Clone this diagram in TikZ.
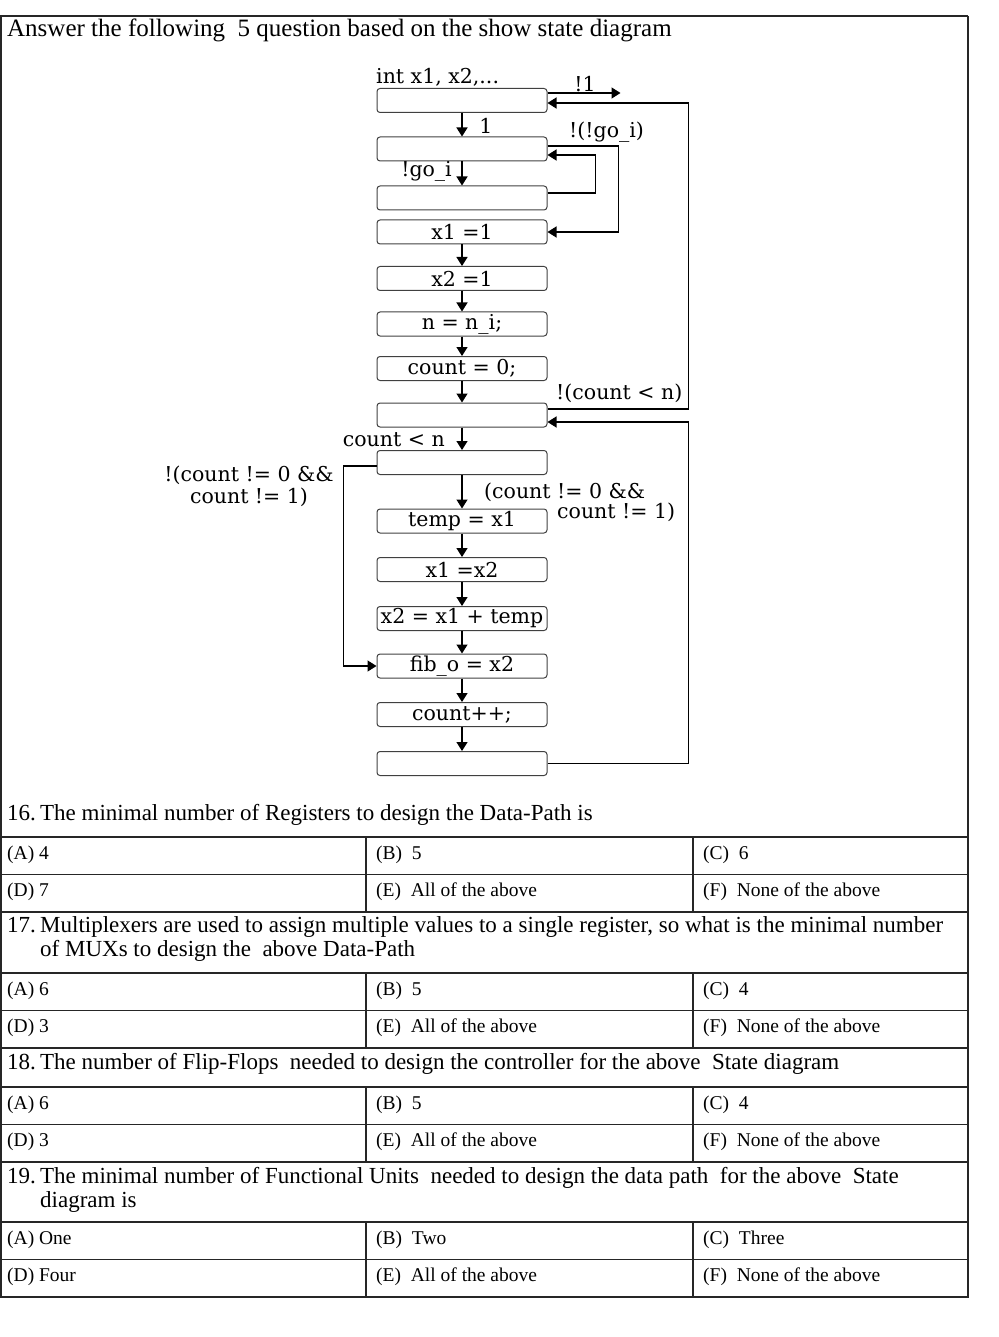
\documentclass[tikz,border=0pt]{standalone}
\usepackage{fontspec}
\setmainfont{Liberation Serif}
\newfontfamily\diagfont{DejaVu Serif}
\usetikzlibrary{arrows.meta}

\tikzset{
  state/.style={draw=black!75, line width=1bp, rounded corners=3bp, minimum width=170bp,
    minimum height=24bp, inner sep=1bp, font=\diagfont\fontsize{20.5bp}{23bp}\selectfont},
  lbl/.style={inner sep=0pt, font=\diagfont\fontsize{20.5bp}{22bp}\selectfont},
  arr/.style={line width=1.3bp, -{Triangle[length=9bp,width=11bp]}},
  rule/.style={line width=1.8bp, black!85},
  qtext/.style={anchor=base west, inner sep=0pt, font=\fontsize{23bp}{28bp}\selectfont},
  otext/.style={anchor=base west, inner sep=0pt, font=\fontsize{19.5bp}{23bp}\selectfont}
}

\begin{document}
\begin{tikzpicture}[x=1bp,y=-1bp]
    \useasboundingbox (0,0) rectangle (998,1337);

        % frame
        \draw[rule] (0,16) -- (968,16);
        \draw[rule] (1,16) -- (1,1298);
        \draw[rule] (968,16) -- (968,1298);
        \node[qtext, font=\fontsize{25bp}{28bp}\selectfont] (head) at (7,37) {Answer the following\ \ 5 question based on the show state diagram};

        % states
        \node[state] (s1) at (462,100.5) {};
        \node[state] (s2) at (462,149) {};
        \node[state] (s3) at (462,198) {};
        \node[state] (s4) at (462,232) {x1 =1};
        \node[state] (s5) at (462,278.5) {x2 =1};
        \node[state] (s6) at (462,324) {n = n\_i;};
        \node[state] (s7) at (462,368.5) {count = 0;};
        \node[state] (s8) at (462,415) {};
        \node[state] (s9) at (462,462.5) {};
        \node[state] (s10) at (462,521) {temp = x1};
        \node[state] (s11) at (462,569.5) {x1 =x2};
        \node[state] (s12) at (462,618.5) {x2 = x1 + temp};
        \node[state] (s13) at (462,666) {fib\_o = x2};
        \node[state] (s14) at (462,714.5) {count++;};
        \node[state] (s15) at (462,763.5) {};

        \foreach \a/\b in {s1/s2,s2/s3,s4/s5,s5/s6,s6/s7,s7/s8,s8/s9,s9/s10,s10/s11,s11/s12,s12/s13,s13/s14,s14/s15}
            \draw[arr] (\a) -- (\b);

        % transitions
        \draw[arr] ([yshift=7.5bp]s1.east) -- ++(73,0) coordinate (out1);
        \draw[arr] ([yshift=6bp]s8.east) -- ++(141,0) |- ([yshift=-2.5bp]s1.east);
        \draw[arr] ([yshift=3bp]s2.east) -- ++(71,0) |- (s4.east);
        \draw[arr] ([yshift=5bp]s3.east) -- ++(48,0) |- ([yshift=-6bp]s2.east);
        \draw[arr] (s15.east) -- ++(141,0) |- ([yshift=-7bp]s8.east);
        \draw[arr] ([yshift=-3.5bp]s9.west) -- ++(-33,0) |- (s13.west);

        % labels
        \node[lbl, anchor=west] (init) at (376,77) {int x1, x2,...};
        \node[lbl] (l1) at (585,84) {!1};
        \node[lbl] (lone) at (486,126) {1};
        \node[lbl, anchor=west] (lgo) at (569,132) {!(!go\_i)};
        \node[lbl, anchor=east] (lngo) at (452,171) {!go\_i};
        \node[lbl, anchor=west] (lend) at (556,393) {!(count < n)};
        \node[lbl, anchor=east] (lcnt) at (445,440) {count < n};
        \node[lbl, align=center] (lskip) at (249,486) {!(count != 0 \&\&\\count != 1)};
        \node[lbl, anchor=west] (lfiba) at (484,492) {(count != 0 \&\&};
        \node[lbl, anchor=west] (lfibb) at (557,512) {count != 1)};

        % questions
        \node[qtext] (q16) at (7,820) {\makebox[33bp][l]{16.}The minimal number of Registers to design the Data-Path is};
        \node[qtext] (q17a) at (7,932) {\makebox[33bp][l]{17.}Multiplexers are used to assign multiple values to a single register, so what is the minimal number};
        \node[qtext] (q17b) at (40,956) {of MUXs to design the\ \ above Data-Path};
        \node[qtext] (q18) at (7,1069) {\makebox[33bp][l]{18.}The number of Flip-Flops\ \ needed to design the controller for the above\ \ State diagram};
        \node[qtext] (q19a) at (7,1183) {\makebox[33bp][l]{19.}The minimal number of Functional Units\ \ needed to design the data path\ \ for the above\ \ State};
        \node[qtext] (q19b) at (40,1207) {diagram is};

        % answer rows
        \foreach \t/\ta/\tb/\tc/\td in {837/4/5/6/7, 973/6/5/4/3, 1087/6/5/4/3, 1222/One/Two/Three/Four} {
            \draw[rule] (0,\t) -- (968,\t);
            \draw[rule] (0,{\t+37.5}) -- (968,{\t+37.5});
            \draw[rule] (0,{\t+75}) -- (968,{\t+75});
            \draw[rule] (366,\t) -- (366,{\t+75});
            \draw[rule] (693,\t) -- (693,{\t+75});
            \node[otext] (oa\t) at (7,{\t+22}) {(A) \ta};
            \node[otext] (ob\t) at (376,{\t+22}) {(B)\ \ \tb};
            \node[otext] (oc\t) at (703,{\t+22}) {(C)\ \ \tc};
            \node[otext] (od\t) at (7,{\t+59.5}) {(D) \td};
            \node[otext] (oe\t) at (376,{\t+59.5}) {(E)\ \ All of the above};
            \node[otext] (of\t) at (703,{\t+59.5}) {(F)\ \ None of the above};
        }

\end{tikzpicture}
\end{document}
